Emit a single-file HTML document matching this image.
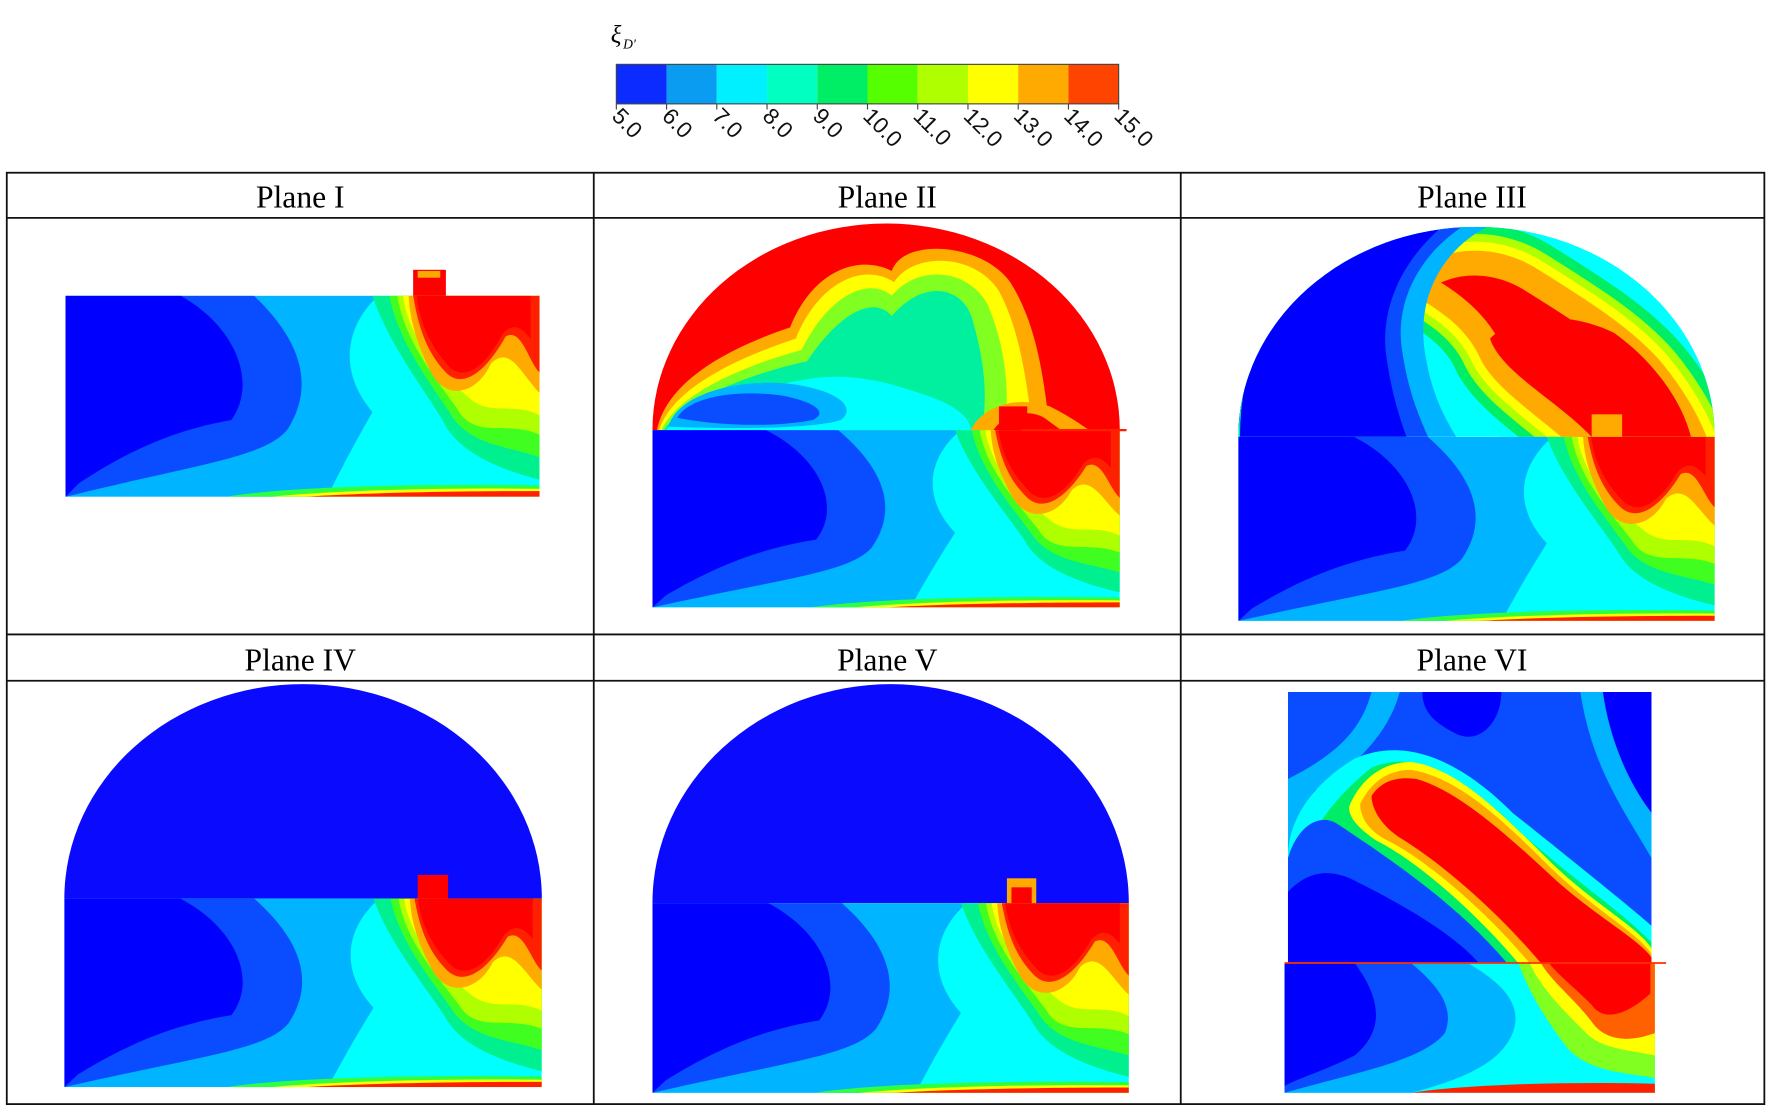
<!DOCTYPE html>
<html><head><meta charset="utf-8"><style>
html,body{margin:0;padding:0;background:#fff;}
svg{display:block;}
</style></head><body>
<svg width="1770" height="1112" viewBox="0 0 1568 985" preserveAspectRatio="none" xmlns="http://www.w3.org/2000/svg">
<defs>
<clipPath id="clow"><rect x="58" y="262" width="420" height="178"/></clipPath>
<clipPath id="d3"><path d="M1097,387 A211,186 0 0 1 1519,387Z"/></clipPath>
<g id="low">
<g clip-path="url(#clow)">
<rect x="58" y="262" width="420" height="178" fill="#00ffff"/>
<path d="M58,262 L335,262 C305,290 300,330 330,365 C310,400 300,420 290,440 L58,440Z" fill="#00b4ff"/>
<path d="M58,262 L225,262 C265,300 280,340 255,380 C235,405 180,410 58,440Z" fill="#0a4cff"/>
<path d="M58,262 L160,262 C210,290 228,340 205,372 C160,380 120,395 70,428 L58,440Z" fill="#0000ff"/>
<path d="M330,262 L478,262 L478,425 C440,415 405,400 392,372 C372,340 342,300 330,262Z" fill="#00f090"/>
<path d="M345,262 L478,262 L478,405 C450,395 415,395 398,365 C378,335 352,300 345,262Z" fill="#40ff20"/>
<path d="M352,262 L478,262 L478,385 C450,372 420,390 405,362 C382,330 358,300 352,262Z" fill="#b0ff00"/>
<path d="M357,262 L478,262 L478,368 C455,355 435,370 415,352 C390,330 362,300 357,262Z" fill="#ffff00"/>
<path d="M362,262 L478,262 L478,348 C462,332 452,305 435,322 C422,350 395,355 382,330 C367,300 363,280 362,262Z" fill="#ffaa00"/>
<path d="M366,262 L478,262 L478,330 C468,320 462,290 448,298 C430,330 410,345 395,330 C376,310 370,285 366,262Z" fill="#ff2000"/>
<path d="M369,262 L470,262 L470,300 C462,290 455,285 445,296 C430,325 412,338 398,325 C380,305 372,285 369,262Z" fill="#ff0000"/>
<path d="M200,440 C250,432 350,428 478,430 L478,440Z" fill="#30ff40"/>
<path d="M240,440 C300,434 400,432 478,433 L478,440Z" fill="#ffff00"/>
<path d="M270,440 C330,436 420,435 478,435 L478,440Z" fill="#ff2000"/>
</g></g>
</defs>

<!-- colorbar -->
<text x="541" y="38" font-family="Liberation Serif, serif" font-style="italic" font-size="22">ξ</text>
<text x="552" y="43" font-family="Liberation Serif, serif" font-style="italic" font-size="12">D'</text>
<g>
<rect x="546" y="57" width="44.5" height="35" fill="#0b2bff"/>
<rect x="590.5" y="57" width="44.5" height="35" fill="#0a9cf0"/>
<rect x="635" y="57" width="44.5" height="35" fill="#00f0ff"/>
<rect x="679.5" y="57" width="44.5" height="35" fill="#00ffc0"/>
<rect x="724" y="57" width="44.5" height="35" fill="#00ee66"/>
<rect x="768.5" y="57" width="44.5" height="35" fill="#55ff00"/>
<rect x="813" y="57" width="44.5" height="35" fill="#b0ff00"/>
<rect x="857.5" y="57" width="44.5" height="35" fill="#ffff00"/>
<rect x="902" y="57" width="44.5" height="35" fill="#ffaa00"/>
<rect x="946.5" y="57" width="44.5" height="35" fill="#ff4400"/>
<rect x="546" y="57" width="445" height="35" fill="none" stroke="#444" stroke-width="1"/>
</g>
<g stroke="#444" stroke-width="1">
<line x1="546" y1="92" x2="546" y2="97"/><line x1="590.5" y1="92" x2="590.5" y2="97"/><line x1="635" y1="92" x2="635" y2="97"/><line x1="679.5" y1="92" x2="679.5" y2="97"/><line x1="724" y1="92" x2="724" y2="97"/><line x1="768.5" y1="92" x2="768.5" y2="97"/><line x1="813" y1="92" x2="813" y2="97"/><line x1="857.5" y1="92" x2="857.5" y2="97"/><line x1="902" y1="92" x2="902" y2="97"/><line x1="946.5" y1="92" x2="946.5" y2="97"/><line x1="991" y1="92" x2="991" y2="97"/>
</g>
<g font-family="Liberation Sans, sans-serif" font-size="20" fill="#111">
<text transform="translate(541,104) rotate(45)">5.0</text>
<text transform="translate(585.5,104) rotate(45)">6.0</text>
<text transform="translate(630,104) rotate(45)">7.0</text>
<text transform="translate(674.5,104) rotate(45)">8.0</text>
<text transform="translate(719,104) rotate(45)">9.0</text>
<text transform="translate(763.5,104) rotate(45)">10.0</text>
<text transform="translate(808,104) rotate(45)">11.0</text>
<text transform="translate(852.5,104) rotate(45)">12.0</text>
<text transform="translate(897,104) rotate(45)">13.0</text>
<text transform="translate(941.5,104) rotate(45)">14.0</text>
<text transform="translate(986,104) rotate(45)">15.0</text>
</g>

<!-- Plane I -->
<use href="#low"/>
<rect x="366" y="239" width="29" height="23" fill="#ff0000"/>
<rect x="370" y="240" width="20" height="6" fill="#ffaa00"/>

<!-- Plane II -->
<path d="M578,381 A207,183 0 0 1 992,381Z" fill="#ff0000"/>
<path d="M582,381 C590,340 640,310 700,290 C720,240 760,225 790,240 C800,210 870,215 895,250 C920,290 925,340 930,381Z" fill="#ffaa00"/>
<path d="M584,381 C595,345 650,318 705,300 C725,250 765,232 792,250 C810,222 865,225 885,258 C905,295 910,345 915,381Z" fill="#ffff00"/>
<path d="M586,381 C600,350 655,325 710,310 C735,260 770,245 790,262 C815,232 860,240 875,270 C890,305 895,345 890,381Z" fill="#80ff20"/>
<path d="M588,381 C605,355 660,332 715,320 C745,275 775,262 790,280 C820,245 855,255 862,285 C872,320 875,350 870,381Z" fill="#00f0a0"/>
<path d="M590,381 C610,360 660,345 720,335 C760,330 790,340 820,350 C850,360 860,372 860,381Z" fill="#00ffff"/>
<path d="M592,378 C600,350 650,335 700,340 C740,345 760,360 745,372 C720,380 650,380 592,378Z" fill="#00b4ff"/>
<path d="M600,370 C610,352 650,345 690,350 C720,355 735,365 720,372 C690,378 640,378 600,370Z" fill="#0a4cff"/>
<path d="M860,381 C870,360 900,350 930,360 C950,370 960,378 965,381Z" fill="#ffaa00"/>
<path d="M880,381 C890,366 910,362 925,370 L940,381Z" fill="#ff0000"/>
<use href="#low" transform="translate(578,381) scale(0.9857,0.882) translate(-58,-262)"/>
<rect x="885" y="360" width="25" height="21" fill="#ff0000"/>
<line x1="905" y1="381" x2="998" y2="381" stroke="#ff2000" stroke-width="2"/>

<!-- Plane III -->
<g clip-path="url(#d3)">
<rect x="1097" y="195" width="422" height="192" fill="#00ffff"/>
<g stroke-linejoin="round" stroke-linecap="round">
<path id="r3" d="M1255,250 C1290,225 1330,230 1360,250 C1400,275 1440,300 1465,330 C1485,355 1495,375 1500,387 L1400,387 C1370,360 1330,335 1320,310 C1305,280 1280,265 1255,250Z" fill="#ff0000"/>
</g>
<use href="#r3" stroke="#00ffff" stroke-width="90"/>
<use href="#r3" stroke="#00ee66" stroke-width="70"/>
<use href="#r3" stroke="#b0ff00" stroke-width="52"/>
<use href="#r3" stroke="#ffff00" stroke-width="38"/>
<use href="#r3" stroke="#ffaa00" stroke-width="22"/>
<path d="M1320,300 C1340,278 1390,275 1430,295 C1465,320 1490,355 1498,387 L1410,387 C1380,355 1330,330 1320,300Z" fill="#ff0000"/>
<path d="M1097,387 L1097,195 L1330,195 C1280,215 1255,260 1262,310 C1268,350 1280,370 1290,387Z" fill="#00b4ff"/>
<path d="M1097,387 L1097,195 L1305,195 C1260,220 1235,265 1242,310 C1248,350 1258,370 1265,387Z" fill="#0a4cff"/>
<path d="M1097,387 L1097,195 L1285,195 C1245,225 1222,270 1228,315 C1233,350 1240,370 1246,387Z" fill="#0000ff"/>
<path d="M1097,387 C1097,340 1110,300 1130,270" fill="none" stroke="#00e0a0" stroke-width="3"/>
</g>
<use href="#low" transform="translate(1097,387) scale(1.0048,0.9157) translate(-58,-262)"/>
<rect x="1410" y="367" width="27" height="20" fill="#ffaa00"/>

<!-- Plane IV -->
<path d="M57,796 A211.5,190 0 0 1 480,796Z" fill="#0a0aff"/>
<use href="#low" transform="translate(57,796) scale(1.007,0.938) translate(-58,-262)"/>
<rect x="370" y="775" width="27" height="21" fill="#ff0000"/>

<!-- Plane V -->
<path d="M578,800 A211,194 0 0 1 1000,800Z" fill="#0a0aff"/>
<use href="#low" transform="translate(578,800) scale(1.0048,0.944) translate(-58,-262)"/>
<rect x="892" y="778" width="26" height="22" fill="#ffaa00"/>
<rect x="896" y="786" width="18" height="14" fill="#ff0000"/>

<!-- Plane VI -->
<rect x="1141" y="613" width="322" height="240" fill="#0a4cff"/>
<path d="M1141,613 L1240,613 C1230,650 1200,680 1165,700 C1150,720 1141,740 1141,760Z" fill="#00b4ff"/>
<path d="M1141,613 L1215,613 C1205,650 1180,670 1141,690Z" fill="#0a4cff"/>
<path d="M1330,613 L1400,613 C1410,680 1440,720 1463,760 L1463,613Z" fill="#00b4ff"/>
<path d="M1420,613 L1463,613 L1463,720 C1440,690 1425,650 1420,613Z" fill="#0000ff"/>
<path d="M1260,613 L1330,613 C1330,640 1310,660 1290,650 C1270,640 1260,630 1260,613Z" fill="#0000ff"/>
<path d="M1141,760 C1141,720 1170,690 1200,672 C1250,650 1300,680 1340,720 C1390,760 1440,800 1463,820 L1463,853 L1141,853Z" fill="#00ffff"/>
<path d="M1141,853 L1141,790 C1160,730 1190,700 1215,680 C1260,660 1310,700 1350,740 C1395,780 1440,810 1463,835 L1463,853Z" fill="#00ee66"/>
<path d="M1195,715 C1205,690 1225,675 1250,675 C1290,680 1330,720 1370,760 C1410,800 1450,820 1463,840 L1463,853 L1345,853 C1300,800 1250,760 1220,745 C1205,735 1195,725 1195,715Z" fill="#ffff00"/>
<path d="M1205,712 C1215,692 1230,682 1250,682 C1290,688 1330,725 1370,765 C1410,805 1450,825 1463,845 L1463,853 L1355,853 C1310,800 1260,760 1230,745 C1210,735 1205,722 1205,712Z" fill="#ffaa00"/>
<path d="M1215,705 C1225,690 1240,688 1255,690 C1290,700 1330,735 1370,772 C1410,810 1450,830 1463,848 L1463,853 L1365,853 C1320,800 1270,760 1240,742 C1222,730 1215,715 1215,705Z" fill="#ff0000"/>
<path d="M1141,853 L1141,760 C1150,730 1170,720 1185,730 C1230,760 1290,800 1335,853Z" fill="#0a4cff"/>
<path d="M1141,853 L1141,790 C1160,770 1180,770 1200,780 C1250,805 1290,830 1310,853Z" fill="#0000ff"/>
<rect x="1138" y="853" width="328" height="115" fill="#00ffff"/>
<path d="M1138,853 L1300,853 C1330,870 1350,890 1340,915 C1330,940 1300,955 1250,968 L1138,968Z" fill="#00b4ff"/>
<path d="M1138,853 L1250,853 C1270,870 1290,890 1280,915 C1260,940 1200,950 1138,968Z" fill="#0a4cff"/>
<path d="M1138,853 L1200,853 C1220,880 1230,910 1200,935 C1170,950 1150,955 1138,962Z" fill="#0000ff"/>
<path d="M1345,853 L1466,853 L1466,955 C1440,950 1410,950 1390,930 C1370,905 1355,880 1345,853Z" fill="#80ff20"/>
<path d="M1355,853 L1466,853 L1466,935 C1445,930 1420,930 1405,915 C1385,895 1365,875 1355,853Z" fill="#ffff00"/>
<path d="M1365,853 L1466,853 L1466,915 C1440,925 1420,920 1410,905 C1395,885 1375,870 1365,853Z" fill="#ff6000"/>
<path d="M1372,853 L1462,853 L1462,880 C1440,900 1420,905 1410,890 C1395,875 1382,865 1372,853Z" fill="#ff0000"/>
<path d="M1250,968 C1300,960 1400,958 1466,960 L1466,968Z" fill="#ff2000"/>
<line x1="1138" y1="853" x2="1476" y2="853" stroke="#ff3000" stroke-width="1.5"/>

<!-- table -->
<g stroke="#111" stroke-width="1.6" fill="none">
<rect x="6" y="153" width="1557" height="825"/>
<line x1="6" y1="193" x2="1563" y2="193"/>
<line x1="6" y1="562" x2="1563" y2="562"/>
<line x1="6" y1="603" x2="1563" y2="603"/>
<line x1="526" y1="153" x2="526" y2="978"/>
<line x1="1046" y1="153" x2="1046" y2="978"/>
</g>
<g font-family="Liberation Serif, serif" font-size="28" fill="#000" text-anchor="middle">
<text x="266" y="184">Plane I</text>
<text x="786" y="184">Plane II</text>
<text x="1304" y="184">Plane III</text>
<text x="266" y="594">Plane IV</text>
<text x="786" y="594">Plane V</text>
<text x="1304" y="594">Plane VI</text>
</g>
</svg>
</body></html>
